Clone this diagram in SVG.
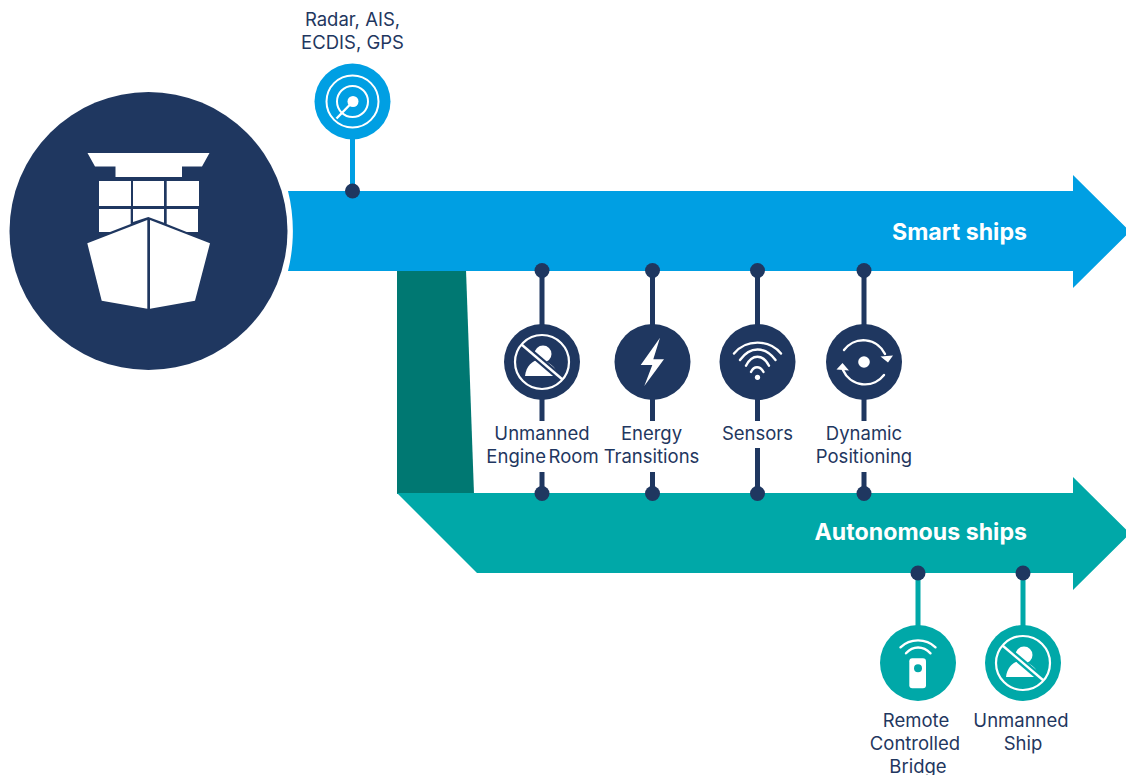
<svg xmlns="http://www.w3.org/2000/svg" width="1126" height="775" viewBox="0 0 1126 775">
<style>
text{font-family:"Inter","Liberation Sans",sans-serif;fill:#1f3760;font-size:18.5px;text-anchor:middle}
.t{fill:#fff;font-weight:700;font-size:23.2px;text-anchor:end}
.n{fill:#1f3760}.b{fill:#009fe3}.g{fill:#00a8a8}.w{fill:#fff}
.sw{fill:none;stroke:#fff;stroke-width:2.400;stroke-linecap:round}
.ln{stroke:#1f3760;stroke-width:5;fill:none}
.lnb{stroke:#009fe3;stroke-width:5;fill:none}
.lng{stroke:#00a8a8;stroke-width:5;fill:none}
</style>
<defs>
<g id="noperson">
<circle cx="1" cy="-8" r="8.500" class="w"/>
<path d="M-17 14C-16 4-9-2-3-2C5-2 15 5 16 14Z" class="w"/>
<path d="M-23-19.600L23 19.600" stroke="currentColor" stroke-width="7"/>
<circle r="27" fill="none" stroke="#fff" stroke-width="2.200"/>
<path d="M-20.500-17.500L20.500 17.500" stroke="#fff" stroke-width="2.400"/>
</g>
</defs>
<g id="connectors">
<path class="lnb" d="M352.500 135V191"/>
<path class="ln" d="M542 270V493M652.500 270V493M757.500 270V493M864 270V493"/>
<path class="lng" d="M918 573V640M1023 573V640"/>
</g>
<g id="branch"><path d="M397 270H466L474 494H397Z" fill="#007872"/></g>
<g id="smart-ships">
<path class="b" d="M288 191H1073V175L1130 231.500L1073 288V271H288C294.500 245 294.500 217 288 191Z"/>
<text class="t" x="1027" y="239.500">Smart ships</text>
</g>
<g id="autonomous-ships">
<path class="g" d="M397 493H1073V477L1130 533.500L1073 590V573H477Z"/>
<text class="t" x="1027" y="539.500">Autonomous ships</text>
</g>
<g id="ship">
<circle cx="148.500" cy="231" r="139" class="n"/>
<path class="w" d="M87.500 153H209.500L202 166.500H182V177H115.500V166.500H95Z"/>
<path class="w" d="M99 181H131V206H99ZM133 181H164V206H133ZM166.700 181H199V206H166.700ZM99 209H130.700V224L110 232H99ZM133 209H164V222.700L148.300 217L133 222ZM166.700 209H198V232H186.700L166.700 224Z"/>
<path class="w" d="M147.300 220V308.700L101.700 300.700L87.300 243.300ZM150 220V308.700L195 300.700L210 243.300Z"/>
</g>
<g id="radar">
<circle cx="352.500" cy="101.500" r="38" class="b"/>
<circle cx="352.500" cy="101.500" r="26" fill="none" stroke="#fff" stroke-width="2"/>
<circle cx="352.500" cy="101.500" r="15.500" fill="none" stroke="#fff" stroke-width="2"/>
<circle cx="353" cy="101.500" r="5.500" class="w"/>
<path d="M353 101.500L336.500 118.500" stroke="#fff" stroke-width="2.400"/>
<text><tspan x="352.500" y="26">Radar, AIS,</tspan><tspan x="352.500" y="49">ECDIS, GPS</tspan></text>
</g>
<g id="unmanned-engine-room">
<circle cx="542" cy="362" r="38" class="n"/>
<use href="#noperson" x="542" y="362" color="#1f3760"/>
<rect x="486" y="421" width="113" height="51" class="w"/>
<text><tspan x="542" y="440">Unmanned</tspan><tspan x="542.500" y="463" word-spacing="-2.500">Engine Room</tspan></text>
</g>
<g id="energy-transitions">
<circle cx="652.500" cy="362" r="38" class="n"/>
<path class="w" d="M660 337.700L640.700 365H652.300L644.300 386L664 359.300H653.300Z"/>
<rect x="604" y="421" width="97" height="51" class="w"/>
<text><tspan x="651.500" y="440">Energy</tspan><tspan x="651.500" y="463">Transitions</tspan></text>
</g>
<g id="sensors">
<circle cx="757.500" cy="362" r="38" class="n"/>
<path class="sw" d="M734 353.500C746 339 769 339 781 353.500M740 360C750 346 765 346 775.500 360M746 365.700C752 353.700 763 353.700 769 365.700M751 372C754 365.700 760 365.700 763.500 372"/>
<circle cx="757.500" cy="377.300" r="2.600" class="w"/>
<rect x="717" y="421" width="81" height="27" class="w"/>
<text x="757.500" y="440">Sensors</text>
</g>
<g id="dynamic-positioning">
<circle cx="864" cy="362" r="38" class="n"/>
<circle cx="864" cy="362" r="5.800" class="w"/>
<path class="sw" d="M844 350A24 24 0 0 1 885 354M884 375A24 24 0 0 1 843 370"/>
<path class="w" d="M880.500 356.500L893 355.500L888 362.500ZM836.500 369.500L849 370.500L842.500 363Z"/>
<rect x="812" y="421" width="104" height="51" class="w"/>
<text><tspan x="864" y="440">Dynamic</tspan><tspan x="864" y="463">Positioning</tspan></text>
</g>
<g id="dots" class="n">
<circle cx="352.500" cy="191" r="7.500"/>
<circle cx="542" cy="270.500" r="7.500"/><circle cx="652.500" cy="270.500" r="7.500"/><circle cx="757.500" cy="270.500" r="7.500"/><circle cx="864" cy="270.500" r="7.500"/>
<circle cx="542" cy="493.500" r="7.500"/><circle cx="652.500" cy="493.500" r="7.500"/><circle cx="757.500" cy="493.500" r="7.500"/><circle cx="864" cy="493.500" r="7.500"/>
<circle cx="918" cy="573" r="7.500"/><circle cx="1023" cy="573" r="7.500"/>
</g>
<g id="remote-controlled-bridge">
<circle cx="918" cy="663" r="38" class="g"/>
<rect x="909.300" y="658.300" width="16.700" height="30" rx="3" class="w"/>
<circle cx="918" cy="668.300" r="4" class="g"/>
<path class="sw" d="M900.500 647.300C910 638 926 638 935.500 647.300M906 653.300C913 645.500 923 645.500 930.500 653.300"/>
<text><tspan x="916" y="727">Remote</tspan><tspan x="915" y="750">Controlled</tspan><tspan x="918" y="773">Bridge</tspan></text>
</g>
<g id="unmanned-ship">
<circle cx="1023" cy="663" r="38" class="g"/>
<use href="#noperson" x="1023" y="663" color="#00a8a8"/>
<text><tspan x="1021" y="727">Unmanned</tspan><tspan x="1023" y="750">Ship</tspan></text>
</g>
</svg>
